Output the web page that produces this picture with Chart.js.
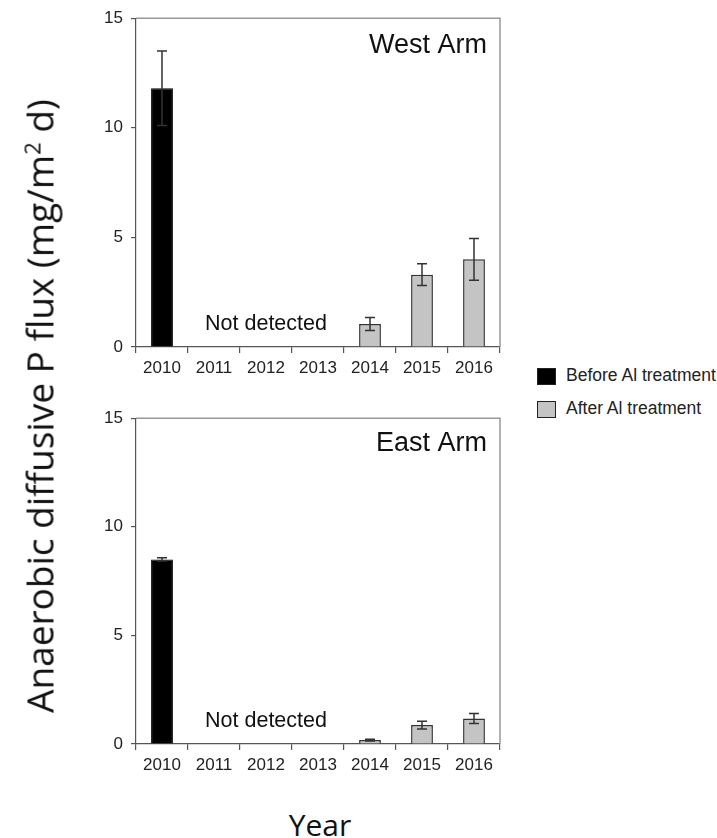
<!DOCTYPE html>
<html>
<head>
<meta charset="utf-8">
<script src="https://cdn.jsdelivr.net/npm/chart.js@4"></script>
<style>
  body { margin: 0; background: #fff; }
  #wrap { position: relative; width: 717px; height: 838px; background: #fff; overflow: hidden; }
  canvas { position: absolute; left: 0; }
  #ytitle { position: absolute; left: 39px; top: 406px; transform: translate(-50%, -50%) rotate(-90deg);
            white-space: nowrap; font: 37px "Open Sans", sans-serif; color: #111; }
  #ytitle sup { font-size: 60%; }
  #xtitle { position: absolute; left: 320px; top: 824px; transform: translate(-50%, -50%);
            font: 30px "Open Sans", sans-serif; color: #111; }
  .leg { position: absolute; left: 537px; font: 17.5px "Liberation Sans", Arial, sans-serif; color: #222; }
  .leg span.box { position: absolute; left: 0; top: 0; width: 17px; height: 15px; border: 1.5px solid #222; }
  .leg span.txt { position: absolute; left: 29px; top: -3px; white-space: nowrap; }
</style>
</head>
<body>
<div id="wrap">
  <canvas id="westChart" width="520" height="400" style="top:0"></canvas>
  <canvas id="eastChart" width="520" height="400" style="top:400px"></canvas>
  <div id="ytitle">Anaerobic diffusive P flux (mg/m<sup>2</sup> d)</div>
  <div id="xtitle">Year</div>
  <div class="leg" style="top:368px"><span class="box" style="background:#000"></span><span class="txt">Before Al treatment</span></div>
  <div class="leg" style="top:401px"><span class="box" style="background:#c4c4c4"></span><span class="txt">After Al treatment</span></div>
</div>
<script>
// Datos
const years = ['2010', '2011', '2012', '2013', '2014', '2015', '2016'];
const yTicks = [0, 5, 10, 15];

const westBefore = [11.8, null, null, null, null, null, null];
const westAfter = [null, null, null, null, 1.05, 3.3, 4.0];
const westErr = [1.7, null, null, null, 0.3, 0.5, 0.95];

const eastBefore = [8.5, null, null, null, null, null, null];
const eastAfter = [null, null, null, null, 0.18, 0.87, 1.17];
const eastErr = [0.08, null, null, null, 0.04, 0.18, 0.23];

const tickFont = { family: '"Liberation Sans", Arial, sans-serif', size: 17 };

// Marco gris arriba y a la derecha
const framePlugin = {
    id: 'frame',
    beforeDatasetsDraw(chart) {
        const a = chart.chartArea;
        const ctx = chart.ctx;
        ctx.save();
        ctx.strokeStyle = '#999';
        ctx.lineWidth = 1.5;
        ctx.beginPath();
        ctx.moveTo(a.left, a.top);
        ctx.lineTo(a.right, a.top);
        ctx.lineTo(a.right, a.bottom);
        ctx.stroke();
        ctx.restore();
    }
};

// Barras de error + textos dentro del área
const extrasPlugin = {
    id: 'extras',
    afterDatasetsDraw(chart, args, opts) {
        const ctx = chart.ctx;
        const y = chart.scales.y;
        const x = chart.scales.x;
        const a = chart.chartArea;
        ctx.save();
        ctx.strokeStyle = '#333';
        ctx.lineWidth = 1.5;
        chart.data.datasets.forEach((ds, di) => {
            const meta = chart.getDatasetMeta(di);
            ds.data.forEach((v, i) => {
                const e = opts.err[i];
                if (v == null || e == null) return;
                const cx = meta.data[i].x;
                const top = y.getPixelForValue(v + e);
                const bot = y.getPixelForValue(v - e);
                ctx.beginPath();
                ctx.moveTo(cx, top); ctx.lineTo(cx, bot);
                ctx.moveTo(cx - 5, top); ctx.lineTo(cx + 5, top);
                ctx.moveTo(cx - 5, bot); ctx.lineTo(cx + 5, bot);
                ctx.stroke();
            });
        });
        ctx.fillStyle = '#111';
        ctx.font = '21.5px "Liberation Sans", Arial, sans-serif';
        ctx.textAlign = 'center';
        ctx.textBaseline = 'middle';
        ctx.fillText('Not detected', x.getPixelForValue(2), a.bottom - 23);
        ctx.font = '27px "Liberation Sans", Arial, sans-serif';
        ctx.textAlign = 'right';
        ctx.textBaseline = 'alphabetic';
        ctx.fillText(opts.label, a.right - 13, a.top + opts.labelY);
        ctx.restore();
    }
};

function makeChart(id, before, after, err, label, labelY, xHeight) {
    const ctx = document.getElementById(id).getContext('2d');
    return new Chart(ctx, {
        type: 'bar',
        data: {
            labels: years,
            datasets: [{
                label: 'Before Al treatment',
                data: before,
                backgroundColor: '#000',
                borderColor: '#000',
                borderWidth: 1
            }, {
                label: 'After Al treatment',
                data: after,
                backgroundColor: '#c4c4c4',
                borderColor: '#333',
                borderWidth: 1.5
            }]
        },
        options: {
            responsive: false,
            animation: false,
            devicePixelRatio: 1,
            grouped: false,
            categoryPercentage: 1,
            barPercentage: 0.42,
            layout: { padding: { top: 16, right: 20, left: 0, bottom: 0 } },
            scales: {
                x: {
                    grid: { offset: true, drawOnChartArea: false, tickLength: 6, color: '#555', lineWidth: 1.2 },
                    border: { color: '#555', width: 1.2 },
                    ticks: { font: tickFont, color: '#222', padding: 5, maxRotation: 0, autoSkip: false },
                    afterFit: s => { s.height = xHeight; }
                },
                y: {
                    min: yTicks[0],
                    max: yTicks[yTicks.length - 1],
                    afterBuildTicks: s => { s.ticks = yTicks.map(v => ({ value: v })); },
                    grid: { drawOnChartArea: false, tickLength: 5, color: '#555', lineWidth: 1.2 },
                    border: { color: '#555', width: 1.2 },
                    ticks: { font: tickFont, color: '#222', padding: 8 },
                    afterFit: s => { s.width = 136; }
                }
            },
            plugins: {
                legend: { display: false },
                tooltip: { enabled: false },
                extras: { err: err, label: label, labelY: labelY }
            }
        },
        plugins: [framePlugin, extrasPlugin]
    });
}

makeChart('westChart', westBefore, westAfter, westErr, 'West Arm', 35, 53);
makeChart('eastChart', eastBefore, eastAfter, eastErr, 'East Arm', 33, 56);
</script>
</body>
</html>
